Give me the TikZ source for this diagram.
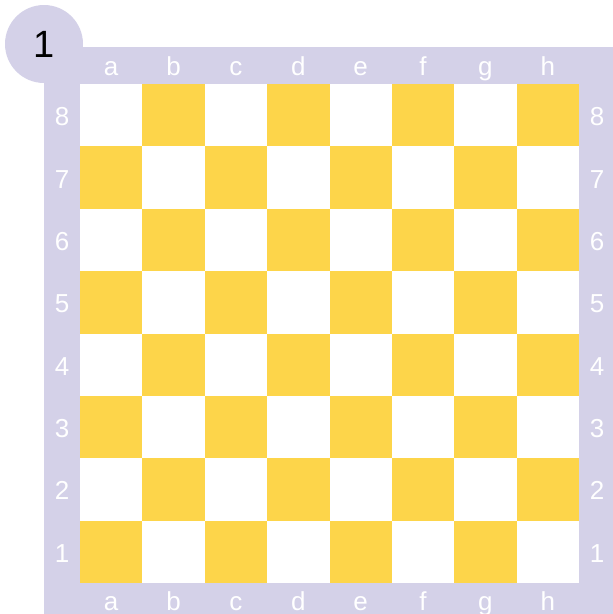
\documentclass[tikz,border=0pt]{standalone}
\usepackage{fontspec}
\setmainfont{Liberation Sans}
\usetikzlibrary{positioning}
\definecolor{frameviolet}{HTML}{D4D1E8}
\definecolor{boardyellow}{HTML}{FDD54A}

\begin{document}
\begin{tikzpicture}[
    x=1pt, y=-1pt,
    coordlabel/.style={text=white, inner sep=0pt, anchor=base, font=\fontsize{26}{26}\selectfont},
    darksq/.style={fill=boardyellow},
    badge/.style={circle, fill=frameviolet, minimum size=78pt, inner sep=0pt, font=\fontsize{38}{38}\selectfont}
  ]
    \useasboundingbox (0,0) rectangle (613,614);

    % frame and board
    \fill[frameviolet] (44,47) rectangle (613,614);
    \fill[white] (80,84) rectangle (579,583);
    \foreach \i in {0,...,7}
      \foreach \j in {0,...,7} {
        \pgfmathtruncatemacro{\sqparity}{mod(\i+\j,2)}
        \ifnum\sqparity=1
          \fill[darksq] ({80+62.375*\i},{84+62.375*\j}) rectangle ({80+62.375*(\i+1)},{84+62.375*(\j+1)});
        \fi
      }

    % files and ranks
    \foreach \f [count=\i from 0] in {a,b,c,d,e,f,g,h} {
      \node[coordlabel] (top-\f) at ({111.2+62.375*\i},75) {\f};
      \node[coordlabel] (bot-\f) at ({111.2+62.375*\i},610) {\f};
    }
    \foreach \r [count=\j from 0] in {8,7,...,1} {
      \node[coordlabel] (left-\r) at (62,{125.7+62.375*\j}) {\r};
      \node[coordlabel] (right-\r) at (597,{125.7+62.375*\j}) {\r};
    }

    \node[badge] (num) at (44,44) {1};
  \end{tikzpicture}
\end{document}
